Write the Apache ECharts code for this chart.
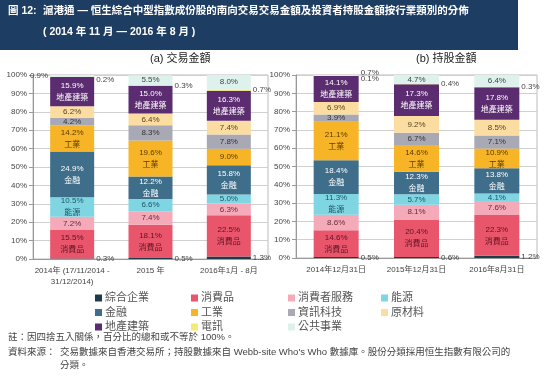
<!DOCTYPE html>
<html><head><meta charset="utf-8">
<script src="https://cdn.jsdelivr.net/npm/echarts@6/dist/echarts.min.js"></script>
<style>html,body{margin:0;padding:0;background:#fff}#c{width:554px;height:384px}</style>
</head><body><div id="c"></div>
<script>
const sectors = ['綜合企業','消費品','消費者服務','能源','金融','工業','資訊科技','原材料','地產建築','電訊','公共事業'];
const tradeCats = ['2014年 (17/11/2014 -\n31/12/2014)','2015 年','2016年1月 - 8月'];
const holdCats = ['2014年12月31日','2015年12月31日','2016年8月31日'];
// values per column, in sector order (bottom to top)
const trade2014 = [0.3,15.5,7.2,10.5,24.9,14.2,4.2,6.2,15.9,0.2,0.9];
const trade2015 = [0.5,18.1,7.4,6.6,12.2,19.6,8.3,6.4,15.0,0.3,5.5];
const trade2016 = [1.3,22.5,6.3,5.0,15.8,9.0,7.8,7.4,16.3,0.7,8.0];
const hold2014 = [0.5,14.6,8.6,11.3,18.4,21.1,3.9,6.9,14.1,0.1,0.7];
const hold2015 = [0.6,20.4,8.1,5.7,12.3,14.6,6.7,9.2,17.3,0.4,4.7];
const hold2016 = [1.2,22.3,7.6,4.1,13.8,10.9,7.1,8.5,17.8,0.3,6.4];
const yMin = 0, yMax = 100, yStep = 10;

const colors = ['#1f3a4a','#e9566c','#f4aab8','#7fd5e2','#3e6e8a','#f6b426','#a9a9b6','#fbdda2','#5b2c6f','#f5ea74','#ddf2ec'];
const labelColors = ['#fff','#5a1322','#6a2a38','#1b5564','#fff','#5a3c00','#333','#5a4420','#fff','#333','#444'];
const FONT = '"Liberation Sans","Noto Sans CJK TC",sans-serif';

const charts = [
  {cats: tradeCats, cols: [trade2014, trade2015, trade2016], barWidth: 44},
  {cats: holdCats, cols: [hold2014, hold2015, hold2016], barWidth: 45}
];
// label placement tweaks for tiny outside labels: key chart-col-sector
const outsideTweaks = {
  '0-0-10': {position: 'left'},
  '0-0-9': {offset: [0, 3]},
  '1-0-10': {offset: [0, -3]},
  '1-0-9': {offset: [0, 3]}
};
function fmt(v) { return v.toFixed(1) + '%'; }

const series = [];
charts.forEach((ch, g) => {
  sectors.forEach((name, s) => {
    series.push({
      type: 'bar', name, stack: 'g' + g, xAxisIndex: g, yAxisIndex: g,
      barWidth: ch.barWidth,
      itemStyle: {color: colors[s]},
      data: ch.cols.map((vals, ci) => {
        const v = vals[s];
        const outside = s === 0 || s === 9 || (s === 10 && v < 2);
        let label;
        if (outside) {
          label = Object.assign({show: true, position: 'right', distance: 2, color: '#444', fontSize: 8,
            fontFamily: FONT, formatter: fmt(v)}, outsideTweaks[g + '-' + ci + '-' + s] || {});
        } else {
          label = {show: true, position: 'inside', color: labelColors[s], fontSize: 8, lineHeight: 12,
            fontFamily: FONT, formatter: v >= 10 ? fmt(v) + '\n' + name : fmt(v)};
        }
        return {value: v, label};
      })
    });
  });
});

const grids = [
  {left: 33, right: 286, top: 75, bottom: 125, show: true, borderColor: '#bbb', borderWidth: 1},
  {left: 296, right: 17, top: 75, bottom: 126, show: true, borderColor: '#bbb', borderWidth: 1}
];
const xAxes = charts.map((ch, g) => ({
  type: 'category', gridIndex: g, data: ch.cats,
  axisLine: {lineStyle: {color: '#999'}}, axisTick: {show: false},
  axisLabel: {fontSize: 8, color: '#444', fontFamily: FONT, margin: 6, lineHeight: 11, interval: 0}
}));
const yAxes = charts.map((ch, g) => ({
  type: 'value', gridIndex: g, min: yMin, max: yMax, interval: yStep,
  axisLine: {show: true, lineStyle: {color: '#999'}},
  axisTick: {show: true, length: 4, lineStyle: {color: '#999'}},
  splitLine: {lineStyle: {color: '#d0d0d0'}},
  axisLabel: {formatter: '{value}%', fontSize: 8, color: '#444', fontFamily: FONT, margin: 6}
}));

const legendCols = [
  ['綜合企業','金融','地產建築'],
  ['消費品','工業','電訊'],
  ['消費者服務','資訊科技','公共事業'],
  ['能源','原材料']
];
const legendLeft = [95, 191, 288, 381];
const legends = legendCols.map((d, i) => ({
  data: d, orient: 'vertical', left: legendLeft[i], top: 292, padding: 0,
  itemWidth: 7, itemHeight: 7, itemGap: 2.5, icon: 'rect', selectedMode: false,
  textStyle: {fontSize: 11, color: '#555', fontFamily: FONT, lineHeight: 12, padding: [0, 0, 0, -2]}
}));

const graphic = [
  {type: 'rect', left: 0, top: 0, shape: {width: 518, height: 50}, style: {fill: '#1e3d62'}, z: 0},
  {type: 'text', left: 8, top: 6, style: {text: '圖 12:', fill: '#fff', font: 'bold 10.5px ' + FONT}},
  {type: 'text', left: 43, top: 6, style: {text: '滬港通 — 恒生綜合中型指數成份股的南向交易交易金額及投資者持股金額按行業類別的分佈', fill: '#fff', font: 'bold 10.5px ' + FONT}},
  {type: 'text', left: 43, top: 27, style: {text: '( 2014 年 11 月 — 2016 年 8 月 )', fill: '#fff', font: 'bold 10.5px ' + FONT}},
  {type: 'text', left: 150, top: 53, style: {text: '(a) 交易金額', fill: '#222', font: '11px ' + FONT, textAlign: 'center'}},
  {type: 'text', left: 416, top: 53, style: {text: '(b) 持股金額', fill: '#222', font: '11px ' + FONT, textAlign: 'center'}},
  {type: 'text', left: 8, top: 333, style: {text: '註：因四捨五入關係，百分比的總和或不等於 100%。', fill: '#444', font: '9.5px ' + FONT}},
  {type: 'text', left: 8, top: 348, style: {text: '資料來源：', fill: '#444', font: '9.5px ' + FONT}},
  {type: 'text', left: 60, top: 348, style: {text: "交易數據來自香港交易所；持股數據來自 Webb-site Who's Who 數據庫。股份分類採用恒生指數有限公司的", fill: '#444', font: '9.5px ' + FONT}},
  {type: 'text', left: 60, top: 361, style: {text: '分類。', fill: '#444', font: '9.5px ' + FONT}}
];

const chart = echarts.init(document.getElementById('c'), null, {renderer: 'canvas'});
chart.setOption({
  animation: false,
  textStyle: {fontFamily: FONT},
  grid: grids, xAxis: xAxes, yAxis: yAxes,
  legend: legends, series, graphic
});
</script>
</body></html>
